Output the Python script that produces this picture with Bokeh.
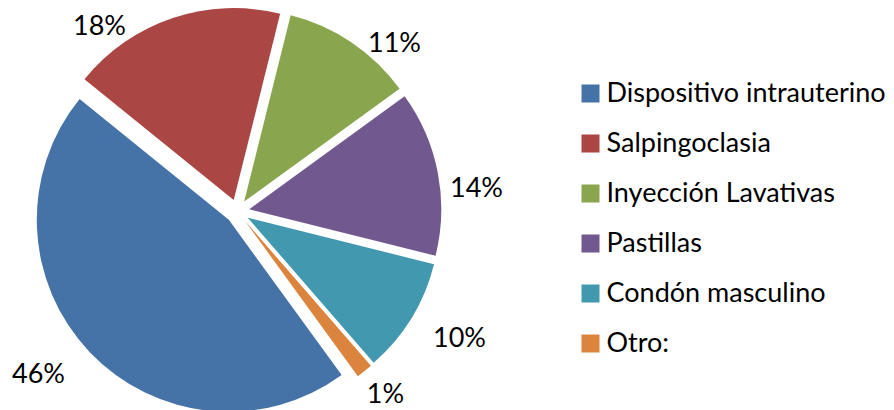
import numpy as np
from bokeh.plotting import figure
from bokeh.models import ColumnDataSource, Range1d
from bokeh.core.properties import value
from bokeh.embed import file_html
from bokeh.resources import INLINE

# ---- data ----
categories = ["Dispositivo intrauterino", "Salpingoclasia", "Inyección Lavativas",
              "Pastillas", "Condón masculino", "Otro:"]
counts = [33, 13, 8, 10, 7, 1]
pct_labels = ["46%", "18%", "11%", "14%", "10%", "1%"]
colors = ["#4572A7", "#AA4643", "#89A54E", "#71588F", "#4198AF", "#DB843D"]

# ---- layout (pixel positions in the picture) ----
W, H = 894, 410
FONT = "Lato"
FS = "27px"
TEXT_SHIFT = 11  # compensation for renderer baseline offset


def sx(X):
    return X


def sy(Y):
    return H - Y


center_X, center_Y = 237, 211
radius = 192
explode = 12
first_angle = -54.0  # degrees, slices run clockwise from here

label_X = [38, 99, 394, 476, 459, 385]
label_base_Y = [383, 35, 52, 197, 347, 403]

legend_sq_X = 590
legend_top_Y = 93
legend_pitch = 50
legend_text_X = 606

# ---- pie geometry from data ----
vals = np.array(counts, dtype=float)
total = vals.sum()
before = np.concatenate([[0.0], np.cumsum(vals)[:-1]])
hi = np.deg2rad(first_angle - 360.0 * before / total)
lo = hi - np.deg2rad(360.0 * vals / total)
mid = (hi + lo) / 2.0
cx = sx(center_X) + explode * np.cos(mid)
cy = sy(center_Y) + explode * np.sin(mid)

pie_src = ColumnDataSource(dict(x=cx, y=cy, start=lo, end=hi, color=colors, cat=categories))

p = figure(width=W, height=H, output_backend="svg", toolbar_location=None,
           x_range=Range1d(0, W), y_range=Range1d(0, H), min_border=0)
p.axis.visible = False
p.grid.visible = False
p.outline_line_color = None
p.background_fill_color = "white"
p.border_fill_color = "white"

p.wedge(x="x", y="y", radius=radius, start_angle="start", end_angle="end",
        fill_color="color", line_color=None, source=pie_src)

# percentage labels
lab_src = ColumnDataSource(dict(x=[sx(v) for v in label_X],
                                y=[sy(v - TEXT_SHIFT) for v in label_base_Y],
                                text=pct_labels))
p.text(x="x", y="y", text="text", source=lab_src, text_font=value(FONT),
       text_font_size=FS, text_align="center", text_baseline="alphabetic",
       text_color="#000000")

# legend
n = len(categories)
idx = np.arange(n)
leg_src = ColumnDataSource(dict(
    x=[sx(legend_sq_X)] * n,
    y=[sy(legend_top_Y + legend_pitch * i) for i in idx],
    ty=[sy(legend_top_Y + 9 - TEXT_SHIFT + legend_pitch * i) for i in idx],
    tx=[sx(legend_text_X)] * n,
    color=colors, cat=categories))
p.rect(x="x", y="y", width=18, height=18, fill_color="color", line_color=None, source=leg_src)
p.text(x="tx", y="ty", text="cat", source=leg_src, text_font=value(FONT),
       text_font_size=FS, text_align="left", text_baseline="alphabetic",
       text_color="#000000")

open("out.html", "w").write(file_html(p, INLINE))
